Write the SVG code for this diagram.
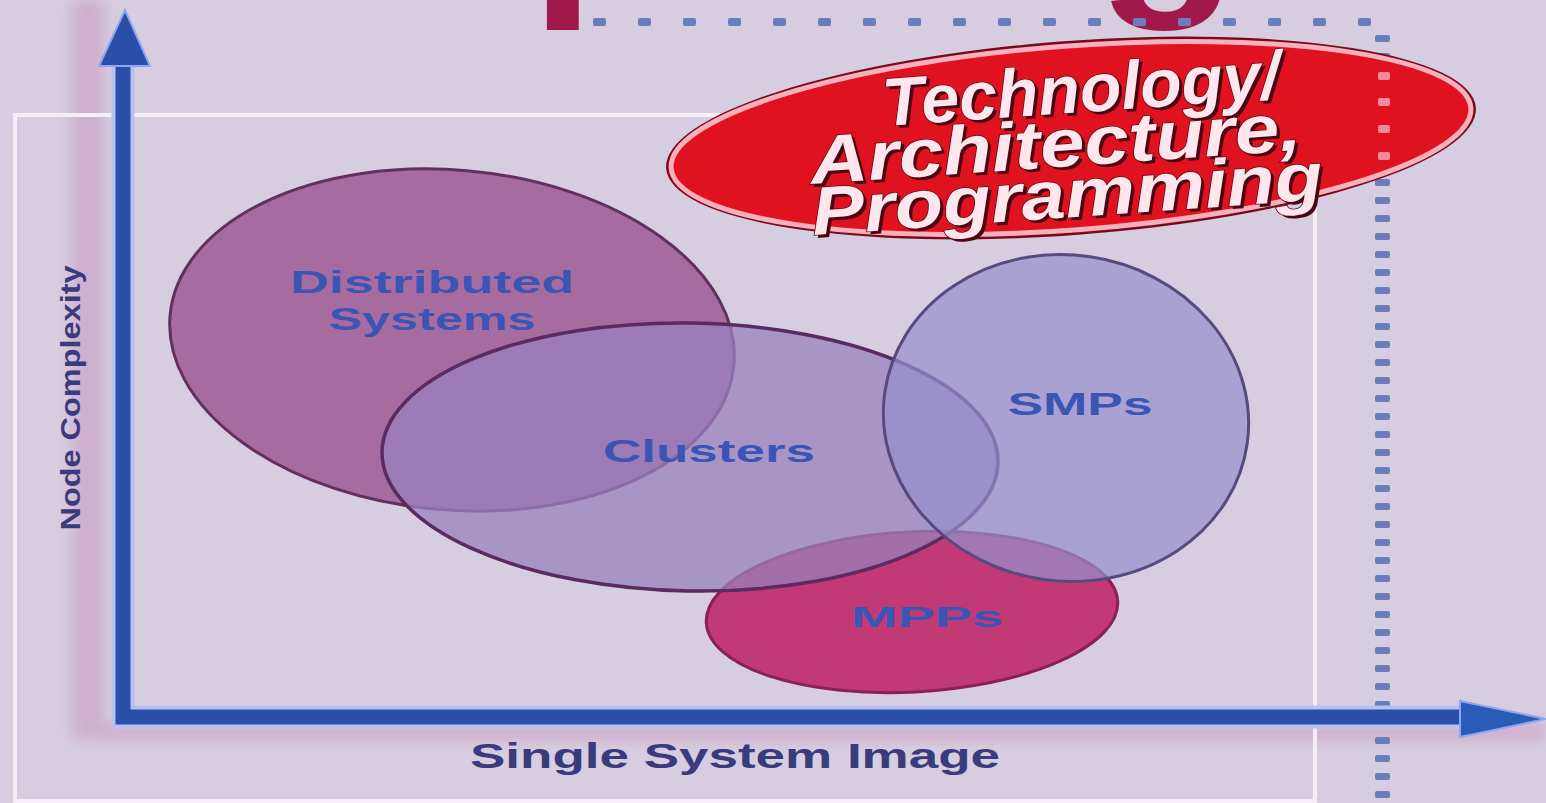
<svg xmlns="http://www.w3.org/2000/svg" width="1546" height="803" viewBox="0 0 1546 803">
  <defs>
    <style>
      .lbl { font-family: "Liberation Sans", Arial, sans-serif; font-weight: bold; fill: #3b55b5; text-anchor: middle; }
      .axis-lbl { font-family: "Liberation Sans", Arial, sans-serif; font-weight: bold; fill: #393b7c; text-anchor: middle; }
      .red-txt { font-family: "Liberation Sans", Arial, sans-serif; font-weight: bold; font-style: italic; font-size: 68px; text-anchor: middle; }
      .red-fg { fill: #fde6ec; stroke: #5a0816; stroke-width: 1.5px; paint-order: stroke; }
      .red-sh { fill: #4a0612; }
      .axis-edge { stroke: #b4c2f2; fill: none; }
      .axis-core { stroke: #2b4ea9; fill: none; }
      .dot { fill: #6b7cba; }
    </style>
    <filter id="blur" x="-20%" y="-20%" width="140%" height="140%">
      <feGaussianBlur stdDeviation="7"/>
    </filter>
    <pattern id="vdots" x="1374" y="30" width="20" height="18" patternUnits="userSpaceOnUse">
      <rect x="1" y="5" width="15" height="7" rx="2" class="dot"/>
    </pattern>
    <pattern id="hdots" x="590" y="0" width="45" height="40" patternUnits="userSpaceOnUse">
      <rect x="3" y="18" width="13" height="8" rx="2" class="dot"/>
    </pattern>
  </defs>

  <!-- background -->
  <rect x="0" y="0" width="1546" height="803" fill="#d7cde0"/>

  <!-- pink haze/shadow of axes -->
  <g filter="url(#blur)" opacity="0.6">
    <rect x="72" y="0" width="32" height="740" fill="#c79bc3"/>
    <rect x="100" y="724" width="1446" height="16" fill="#c897bd"/>
  </g>

  <!-- title remnant -->
  <text x="16" y="-14" font-family="Liberation Sans, Arial, sans-serif" font-weight="bold" font-size="212" fill="#a0194a" textLength="1222" lengthAdjust="spacingAndGlyphs">Computing</text>

  <!-- white frame -->
  <rect x="15" y="115" width="1300" height="686" fill="none" stroke="#f5eef9" stroke-width="4"/>

  <!-- dotted guide lines -->
  <rect x="590" y="0" width="810" height="32" fill="url(#hdots)"/>
  <rect x="1374" y="30" width="20" height="773" fill="url(#vdots)"/>

  <!-- nodes -->
  <g id="node-distributed">
    <ellipse cx="452" cy="340" rx="283" ry="170" transform="rotate(5 452 340)" fill="#a76c9f" stroke="#62305f" stroke-width="3"/>
    <text class="lbl" x="432" y="293" font-size="32" textLength="284" lengthAdjust="spacingAndGlyphs">Distributed</text>
    <text class="lbl" x="432" y="330" font-size="32" textLength="207" lengthAdjust="spacingAndGlyphs">Systems</text>
  </g>

  <g id="node-mpps">
    <ellipse cx="912" cy="612" rx="206" ry="80" transform="rotate(-3 912 612)" fill="#c13a76" stroke="#8a2152" stroke-width="3"/>
    <text class="lbl" x="927" y="627" font-size="30" textLength="152" lengthAdjust="spacingAndGlyphs">MPPs</text>
  </g>

  <g id="node-clusters">
    <ellipse cx="690" cy="457" rx="308" ry="134" transform="rotate(1 690 457)" fill="#9a80bd" fill-opacity="0.75" stroke="#5a2a62" stroke-width="3.5"/>
    <text class="lbl" x="709" y="462" font-size="32" textLength="212" lengthAdjust="spacingAndGlyphs">Clusters</text>
  </g>

  <g id="node-smps">
    <ellipse cx="1066" cy="418" rx="183" ry="163" transform="rotate(8 1066 418)" fill="#9590cc" fill-opacity="0.72" stroke="#574a7e" stroke-width="3"/>
    <text class="lbl" x="1080" y="415" font-size="32" textLength="145" lengthAdjust="spacingAndGlyphs">SMPs</text>
  </g>

  <!-- badge -->
  <g id="node-badge">
    <ellipse cx="1071" cy="138" rx="406" ry="97" transform="rotate(-4.3 1071 138)" fill="#7a0a1a"/>
    <ellipse cx="1071" cy="138" rx="401" ry="92" transform="rotate(-4.3 1071 138)" fill="#e0121f" stroke="#f7b0bc" stroke-width="5"/>
    <rect x="1378" y="72" width="12" height="8" rx="2" fill="#f08a98"/>
    <rect x="1378" y="98" width="12" height="8" rx="2" fill="#f08a98"/>
    <rect x="1378" y="125" width="12" height="8" rx="2" fill="#f08a98"/>
    <rect x="1378" y="152" width="12" height="8" rx="2" fill="#f08a98"/>
    <g transform="rotate(-4 1070 150)">
      <text class="red-txt red-sh" x="1088" y="116" textLength="398" lengthAdjust="spacingAndGlyphs">Technology/</text>
      <text class="red-txt red-sh" x="1059" y="169" textLength="492" lengthAdjust="spacingAndGlyphs">Architecture,</text>
      <text class="red-txt red-sh" x="1067" y="220" textLength="512" lengthAdjust="spacingAndGlyphs">Programming</text>
      <text class="red-txt red-fg" x="1085" y="113" textLength="398" lengthAdjust="spacingAndGlyphs">Technology/</text>
      <text class="red-txt red-fg" x="1056" y="166" textLength="492" lengthAdjust="spacingAndGlyphs">Architecture,</text>
      <text class="red-txt red-fg" x="1064" y="217" textLength="512" lengthAdjust="spacingAndGlyphs">Programming</text>
    </g>
  </g>

  <!-- connectors: axes -->
  <g id="connectors">
    <path class="axis-edge" d="M123,58 V717 H1470" stroke-width="23" stroke-linejoin="miter"/>
    <path class="axis-core" d="M123,58 V717 H1470" stroke-width="15" stroke-linejoin="miter"/>
    <polygon points="99,66 125,10 150,66" fill="#2b4ea9" stroke="#8fa6ea" stroke-width="2"/>
    <polygon points="1460,701 1546,719 1460,737" fill="#2b5bb8" stroke="#8fa6ea" stroke-width="2"/>
  </g>

  <!-- axis labels -->
  <text class="axis-lbl" x="735" y="768" font-size="35" textLength="530" lengthAdjust="spacingAndGlyphs">Single System Image</text>
  <text class="axis-lbl" x="0" y="0" font-size="28" textLength="265" lengthAdjust="spacingAndGlyphs" transform="translate(80 398) rotate(-90)">Node Complexity</text>
</svg>
